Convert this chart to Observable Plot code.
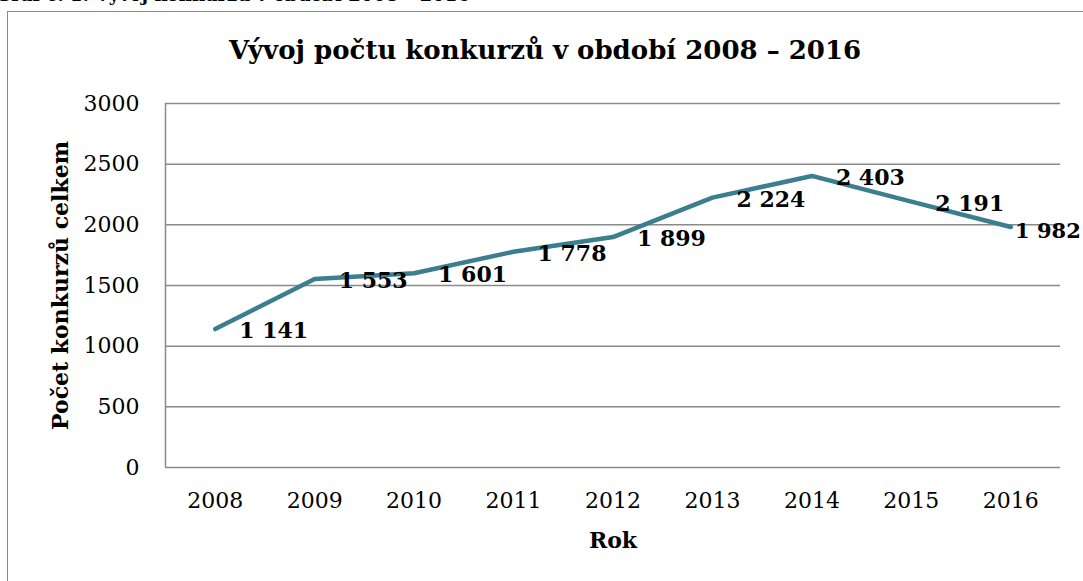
<!DOCTYPE html>
<html>
<head>
<meta charset="utf-8">
<script src="https://cdn.jsdelivr.net/npm/d3@7"></script>
<script src="https://cdn.jsdelivr.net/npm/@observablehq/plot@0.6"></script>
<style>
  html, body { margin: 0; padding: 0; background: #fff; }
  #wrap { position: relative; width: 1083px; height: 581px; overflow: hidden; font-family: "DejaVu Serif", serif; }
  #caption { position: absolute; left: -4px; top: -16px; font-size: 18px; font-weight: bold; white-space: nowrap; color: #000; }
  #box { position: absolute; left: 7px; top: 11px; width: 1100px; height: 600px; border: 1.5px solid #8a8a8a; box-sizing: border-box; }
  #title { position: absolute; left: 0; width: 1090px; top: 35px; text-align: center; font-size: 26px; font-weight: bold; color: #000; white-space: nowrap; }
  #chart { position: absolute; left: 0; top: 0; }
</style>
</head>
<body>
<div id="wrap">
  <div id="caption">Graf č. 1: Vývoj konkurzů v období 2008 – 2016</div>
  <div id="box"></div>
  <div id="title">Vývoj počtu konkurzů v období 2008 – 2016</div>
  <div id="chart"></div>
</div>
<script>
const years = [2008, 2009, 2010, 2011, 2012, 2013, 2014, 2015, 2016];
const counts = [1141, 1553, 1601, 1778, 1899, 2224, 2403, 2191, 1982];
const yTicks = [0, 500, 1000, 1500, 2000, 2500, 3000];

const data = years.map((y, i) => ({year: y, value: counts[i]}));
const fmt = v => String(v).replace(/\B(?=(\d{3})+(?!\d))/g, " ");

const chart = Plot.plot({
  width: 1083,
  height: 581,
  marginLeft: 165,
  marginRight: 23,
  marginTop: 103,
  marginBottom: 114,
  style: {fontFamily: "DejaVu Serif, serif", fontSize: "22px", color: "#000", background: "transparent", overflow: "visible"},
  x: {domain: [2007.5, 2016.5]},
  y: {domain: [0, 3000]},
  marks: [
    Plot.ruleY(yTicks, {stroke: "#8a8a8a", strokeWidth: 1.5}),
    Plot.ruleX([2007.5], {y1: 0, y2: 3000, stroke: "#8a8a8a", strokeWidth: 1.5}),
    Plot.axisY({ticks: yTicks, tickSize: 0, tickPadding: 26, fontSize: 22, tickFormat: d => String(d),
      label: "Počet konkurzů celkem", labelAnchor: "center", labelArrow: "none", labelOffset: 113}),
    Plot.axisX({ticks: years, tickSize: 0, tickPadding: 25, fontSize: 22, tickFormat: d => String(d),
      label: "Rok", labelAnchor: "center", labelArrow: "none", labelOffset: 80}),
    Plot.lineY(data, {x: "year", y: "value", stroke: "#3b7e8f", strokeWidth: 4.5}),
    Plot.text(data.slice(0, -1), {x: "year", y: "value", text: d => fmt(d.value), textAnchor: "start", dx: 24, dy: 2,
      fontWeight: "bold", fontSize: 22, fill: "#000"}),
    Plot.text(data.slice(-1), {x: "year", y: "value", text: d => fmt(d.value), textAnchor: "end", dx: 70, dy: 4,
      fontWeight: "bold", fontSize: 21, fill: "#000"})
  ]
});
chart.querySelectorAll("[aria-label='y-axis label'] text, [aria-label='x-axis label'] text").forEach(t => t.setAttribute("font-weight", "bold"));
document.getElementById("chart").appendChild(chart);
</script>
</body>
</html>
